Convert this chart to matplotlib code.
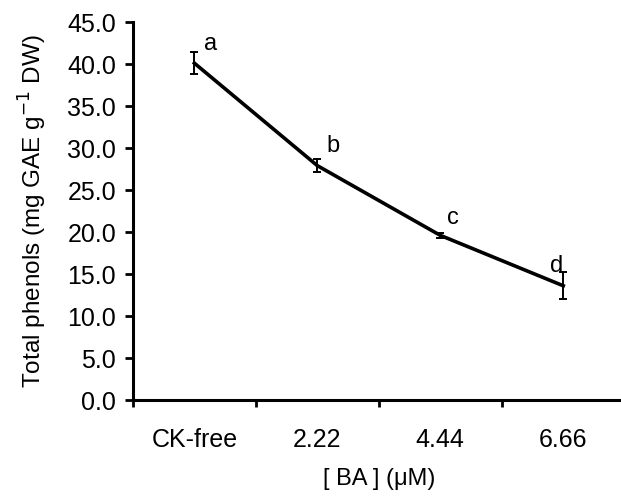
import matplotlib.pyplot as plt
import numpy as np

plt.rcParams['font.family'] = ['Liberation Sans', 'DejaVu Sans']

# data
categories = ['CK-free', '2.22', '4.44', '6.66']
phenols = [40.1, 27.9, 19.6, 13.6]
errors = [1.3, 0.8, 0.3, 1.6]
letters = ['a', 'b', 'c', 'd']
yticks = np.arange(0, 45.1, 5)

fig = plt.figure(figsize=(6.21, 5), dpi=100)
ax = fig.add_axes([0.214, 0.2, 0.792, 0.756])

x = np.arange(1, len(categories) + 1)
ax.errorbar(x, phenols, yerr=errors, color='black', lw=2.6,
            ecolor='black', elinewidth=1.4, capsize=3, capthick=1.4)

# significance letters
offsets = [(0.13, 2.3), (0.13, 2.3), (0.1, 2.1), (-0.05, 2.4)]
for xi, yi, lab, (dx, dy) in zip(x, phenols, letters, offsets):
    ax.text(xi + dx, yi + dy, lab, fontsize=17, ha='center', va='center')

ax.set_xlim(0.5, 4.5)
ax.set_ylim(0, 45)
ax.set_yticks(yticks)
ax.set_yticklabels(['%.1f' % v for v in yticks])

# category axis: ticks between categories, labels centred
ax.set_xticks(np.arange(0.5, 4.6, 1.0))
ax.set_xticklabels([])
ax.set_xticks(x, minor=True)
ax.set_xticklabels(categories, minor=True)
ax.tick_params(axis='x', which='minor', length=0, pad=20, labelsize=18)
ax.tick_params(axis='x', which='major', length=5, width=2, direction='out')
ax.tick_params(axis='y', length=6, width=2, direction='out', labelsize=18, pad=6)

for s in ['top', 'right']:
    ax.spines[s].set_visible(False)
for s in ['left', 'bottom']:
    ax.spines[s].set_linewidth(2.2)

ax.set_ylabel('Total phenols (mg GAE g$^{-1}$ DW)', fontsize=17.5, labelpad=13)
ax.set_xlabel('[ BA ] (\u03bcM)', fontsize=17, labelpad=12)

fig.savefig('out.png', dpi=100)
